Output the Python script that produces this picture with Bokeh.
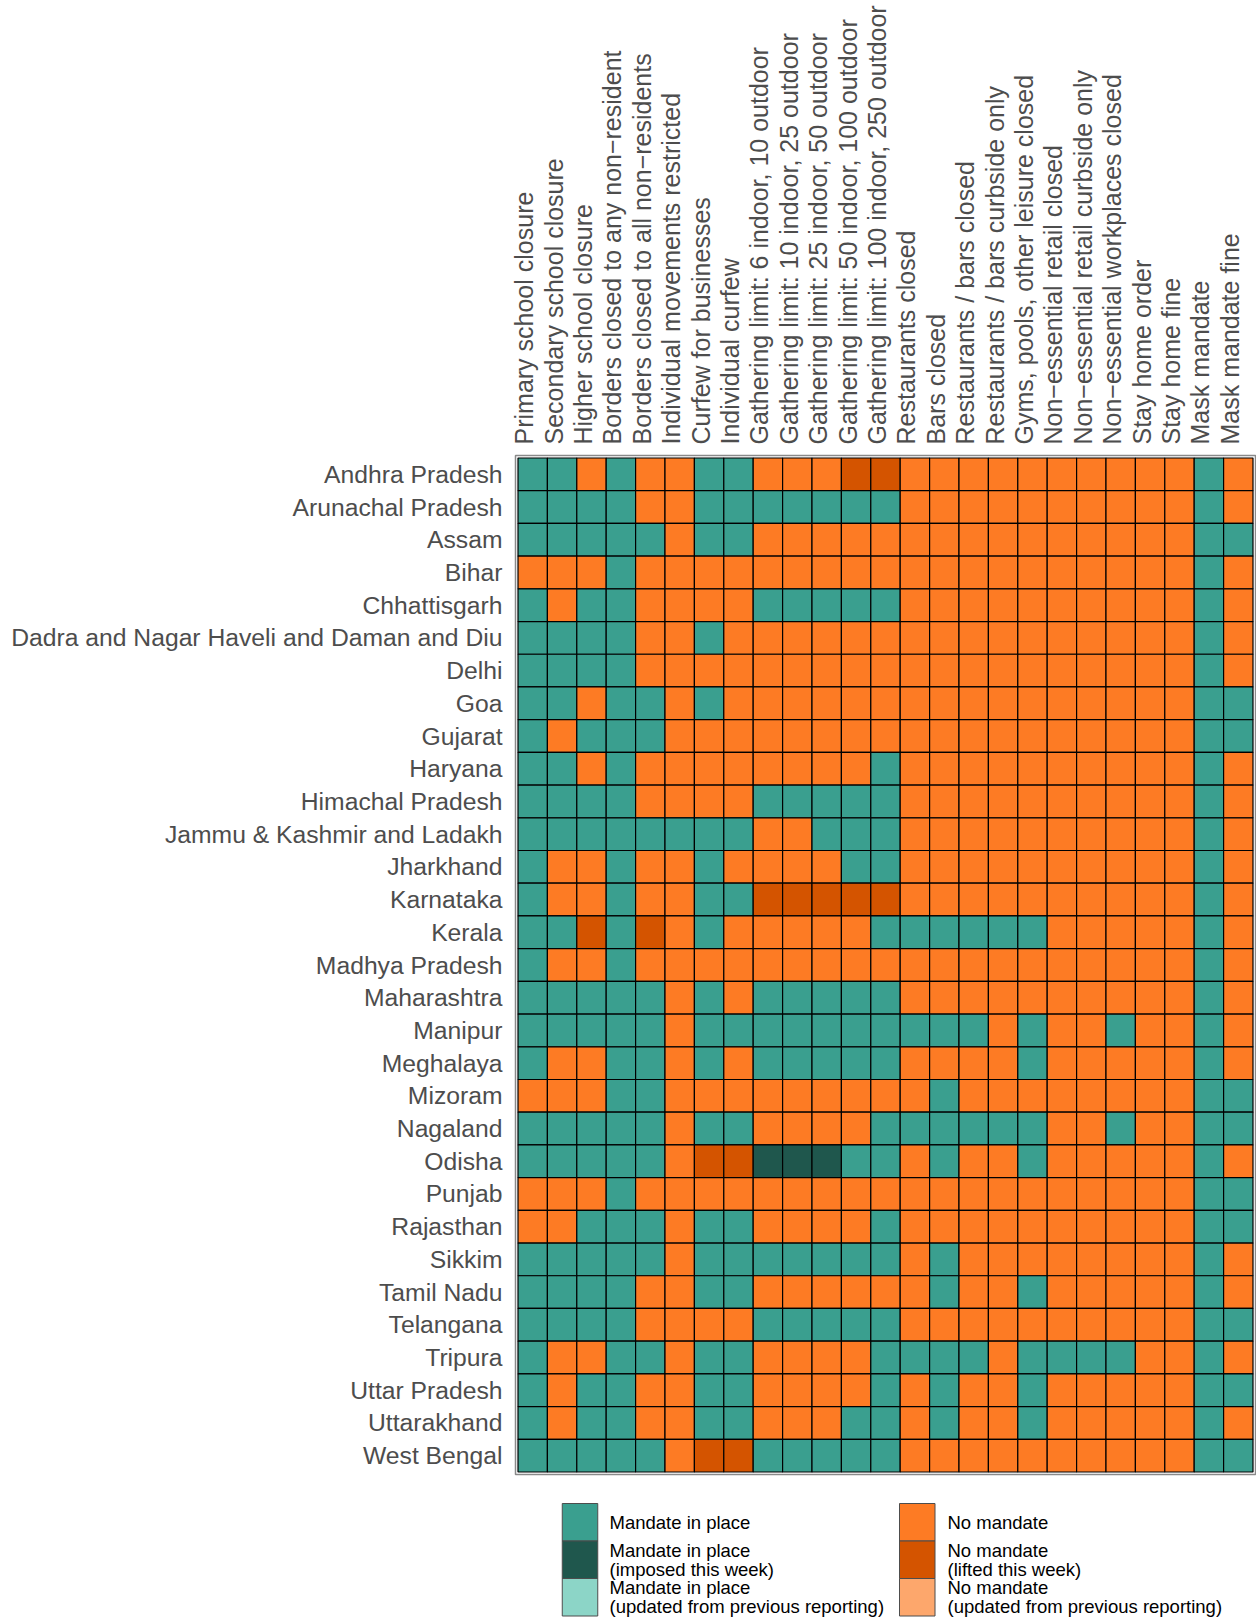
from bokeh.plotting import figure
from bokeh.models import (ColumnDataSource, FactorRange, Range1d, LinearAxis,
                          FixedTicker, CustomJSTickFormatter)
from bokeh.transform import factor_cmap
from bokeh.layouts import column
from bokeh.core.properties import value
from bokeh.embed import file_html
from bokeh.resources import INLINE

states = ["Andhra Pradesh", "Arunachal Pradesh", "Assam", "Bihar", "Chhattisgarh",
          "Dadra and Nagar Haveli and Daman and Diu", "Delhi", "Goa", "Gujarat", "Haryana",
          "Himachal Pradesh", "Jammu & Kashmir and Ladakh", "Jharkhand", "Karnataka", "Kerala",
          "Madhya Pradesh", "Maharashtra", "Manipur", "Meghalaya", "Mizoram", "Nagaland",
          "Odisha", "Punjab", "Rajasthan", "Sikkim", "Tamil Nadu", "Telangana", "Tripura",
          "Uttar Pradesh", "Uttarakhand", "West Bengal"]

policies = ["Primary school closure", "Secondary school closure", "Higher school closure",
            "Borders closed to any non\u2212resident", "Borders closed to all non\u2212residents",
            "Individual movements restricted", "Curfew for businesses", "Individual curfew",
            "Gathering limit: 6 indoor, 10 outdoor", "Gathering limit: 10 indoor, 25 outdoor",
            "Gathering limit: 25 indoor, 50 outdoor", "Gathering limit: 50 indoor, 100 outdoor",
            "Gathering limit: 100 indoor, 250 outdoor", "Restaurants closed", "Bars closed",
            "Restaurants / bars closed", "Restaurants / bars curbside only",
            "Gyms, pools, other leisure closed", "Non\u2212essential retail closed",
            "Non\u2212essential retail curbside only", "Non\u2212essential workplaces closed",
            "Stay home order", "Stay home fine", "Mask mandate", "Mask mandate fine"]

# M = mandate in place, I = imposed this week, U = mandate updated,
# N = no mandate, L = lifted this week, P = no mandate updated
status_rows = [
    "MMNMNNMMNNNLLNNNNNNNNNNMN",
    "MMMMNNMMMMMMMNNNNNNNNNNMN",
    "MMMMMNMMNNNNNNNNNNNNNNNMM",
    "NNNMNNNNNNNNNNNNNNNNNNNMN",
    "MNMMNNNNMMMMMNNNNNNNNNNMN",
    "MMMMNNMNNNNNNNNNNNNNNNNMN",
    "MMMMNNNNNNNNNNNNNNNNNNNMN",
    "MMNMMNMNNNNNNNNNNNNNNNNMM",
    "MNMMMNNNNNNNNNNNNNNNNNNMM",
    "MMNMNNNNNNNNMNNNNNNNNNNMN",
    "MMMMNNNNMMMMMNNNNNNNNNNMN",
    "MMMMMMMMNNMMMNNNNNNNNNNMN",
    "MNNMNNMNNNNMMNNNNNNNNNNMN",
    "MNNMNNMMLLLLLNNNNNNNNNNMN",
    "MMLMLNMNNNNNMMMMMMNNNNNMN",
    "MNNMNNNNNNNNNNNNNNNNNNNMN",
    "MMMMMNMNMMMMMNNNNNNNNNNMN",
    "MMMMMNMMMMMMMMMMNMNNMNNMN",
    "MNNMMNMNMMMMMNNNNMNNNNNMN",
    "NNNMMNNNNNNNNNMNNNNNNNNMM",
    "MMMMMNMMNNNNMMMMMMNNMNNMM",
    "MMMMMNLLIIIMMNMNNMNNNNNMN",
    "NNNMNNNNNNNNNNNNNNNNNNNMM",
    "NNMMMNMMNNNNMNNNNNNNNNNMM",
    "MMMMMNMMMMMMMNMNNNNNNNNMN",
    "MMMMNNMMNNNNNNMNNMNNNNNMN",
    "MMMMNNNNMMMMMNNNNNNNNNNMM",
    "MNNMMNMMNNNNMMMMNMMMMNNMN",
    "MNMMNNMMNNNNMNMNNMNNNNNMM",
    "MNMMNNMMNNNMMNMNNMNNNNNMN",
    "MMMMMNLLMMMMMNNNNNNNNNNMM",
]

status_codes = ["M", "I", "U", "N", "L", "P"]
status_colors = ["#3A9F8F", "#1F574D", "#8CD5C7", "#FD7B24", "#D45400", "#FDA76C"]
legend_labels = ["Mandate in place", "Mandate in place\n(imposed this week)",
                 "Mandate in place\n(updated from previous reporting)",
                 "No mandate", "No mandate\n(lifted this week)",
                 "No mandate\n(updated from previous reporting)"]

xs, ys, st, names = [], [], [], []
for s, row in zip(states, status_rows):
    for j, (pol, c) in enumerate(zip(policies, row)):
        xs.append(j + 0.5)          # position of the policy on the linear x scale
        names.append(pol)
        ys.append(s)
        st.append(c)
src = ColumnDataSource(dict(x=xs, policy=names, state=ys, status=st))

FONT = "Liberation Sans"
PADX = 0.085
PADY = 0.076
n = len(policies)

BL, FW, BR = 515, 740, 1
BT, FH, BB = 455, 1019, 2

p = figure(x_range=Range1d(start=-PADX, end=n + PADX),
           y_range=FactorRange(factors=states[::-1], range_padding=PADY, range_padding_units="absolute"),
           frame_width=FW, frame_height=FH,
           min_border_left=BL, min_border_right=BR, min_border_top=BT, min_border_bottom=BB,
           x_axis_location=None, y_axis_location="left",
           toolbar_location=None, output_backend="svg", tools="")
p.grid.visible = False
p.outline_line_color = "#8a8a8a"
p.outline_line_width = 1.5
p.background_fill_color = "white"

p.rect(x="x", y="state", width=1, height=1, source=src,
       fill_color=factor_cmap("status", palette=status_colors, factors=status_codes),
       line_color="black", line_width=1.2)

ya = p.yaxis[0]
ya.axis_line_color = None
ya.major_tick_line_color = None
ya.major_tick_out = 0
ya.major_tick_in = 0
ya.major_label_standoff = 13
ya.major_label_text_font = FONT
ya.major_label_text_font_size = "24.7px"
ya.major_label_text_color = "#4D4D4D"

SHIFT = 0.29
top_ticks = [i + 0.5 - SHIFT for i in range(n)]
ta = LinearAxis(ticker=FixedTicker(ticks=top_ticks, minor_ticks=[]),
                formatter=CustomJSTickFormatter(args=dict(names=policies, shift=0.5 - SHIFT),
                                                code="return names[Math.round(tick - shift)];"))
ta.axis_line_color = None
ta.major_tick_line_color = None
ta.minor_tick_line_color = None
ta.major_tick_out = 0
ta.major_tick_in = 0
ta.major_label_standoff = 11
ta.major_label_orientation = "vertical"
ta.major_label_text_font = FONT
ta.major_label_text_font_size = "25px"
ta.major_label_text_color = "#4D4D4D"
p.add_layout(ta, "above")

# legend panel (frame aligned with the heatmap frame; x data = page pixels)
LH = 142
lg = figure(frame_width=FW, frame_height=LH,
            x_range=Range1d(BL, BL + FW), y_range=Range1d(LH, 0),
            min_border_left=BL, min_border_right=BR, min_border_top=0, min_border_bottom=0,
            x_axis_location=None, y_axis_location=None,
            toolbar_location=None, output_backend="svg", tools="")
lg.grid.visible = False
lg.outline_line_color = None

key_w, key_h = 35.5, 37.5
key_top = 27
col_key_x = [579.5, 916.75]
col_text_x = [609, 947]
kx, ky, kc = [], [], []
tx, ty, tt = [], [], []
for i, (lab, colr) in enumerate(zip(legend_labels, status_colors)):
    c = i // 3
    r = i % 3
    cy = key_top + key_h * r + key_h / 2
    kx.append(col_key_x[c]); ky.append(cy); kc.append(colr)
    lines = lab.split("\n")
    offs = [0] if len(lines) == 1 else [-9.5, 9.5]
    for ln, o in zip(lines, offs):
        tx.append(col_text_x[c]); ty.append(cy + o); tt.append(ln)

lg.rect(x=kx, y=ky, width=key_w, height=key_h, fill_color=kc,
        line_color="#4d4d4d", line_width=1)
lg.text(x=tx, y=ty, text=tt, text_font=value(FONT), text_font_size="18.5px",
        text_baseline="middle", text_align="left", text_color="black")

layout = column(p, lg, spacing=0)
open("out.html", "w").write(file_html(layout, INLINE))
